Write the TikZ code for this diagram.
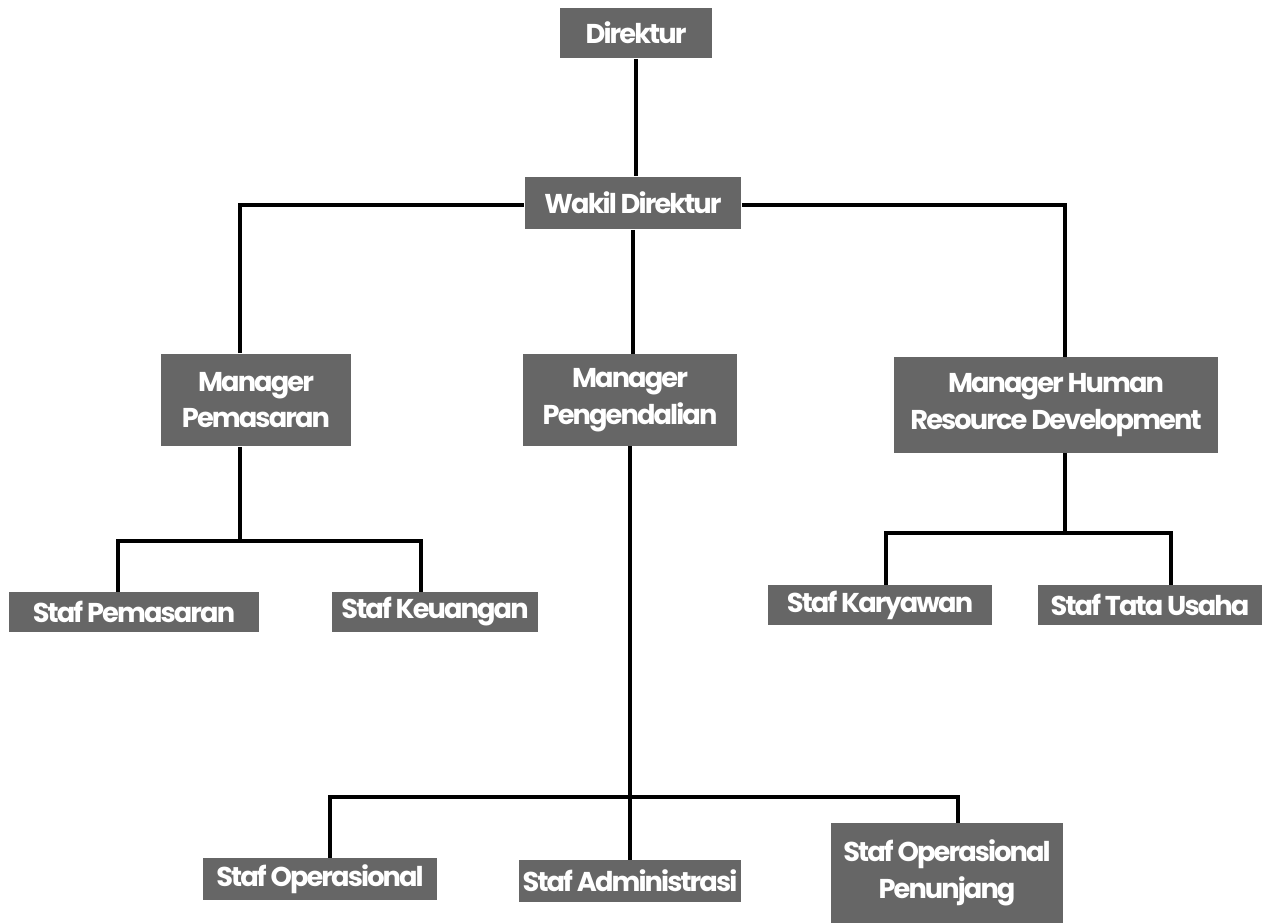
\documentclass[tikz,border=0pt]{standalone}
\usepackage{fontspec}
\setmainfont[LetterSpace=-7]{Poppins}
\usetikzlibrary{positioning}

\begin{document}
\begin{tikzpicture}[
    x=0.02cm, y=-0.02cm,
    jabatan/.style={rectangle, fill=black!60, text=white, align=center, inner sep=0pt,
        font=\fontsize{15.5}{21}\selectfont\bfseries},
    garis/.style={line width=2.2pt}
]
\useasboundingbox (0,0) rectangle (1275,923);

% kotak jabatan
\node[jabatan, minimum width=3.04cm, minimum height=1.02cm] (direktur) at (636,33) {Direktur};
\node[jabatan, minimum width=4.34cm, minimum height=1.06cm] (wakil) at (633,203) {Wakil Direktur};
\node[jabatan, minimum width=3.8cm, minimum height=1.86cm] (mpem) at (256,400) {Manager\\Pemasaran};
\node[jabatan, minimum width=4.28cm, minimum height=1.84cm] (mpeng) at (630,400) {Manager\\Pengendalian};
\node[jabatan, minimum width=6.48cm, minimum height=1.92cm] (mhrd) at (1056,405) {Manager Human\\Resource Development};
\node[jabatan, minimum width=5.02cm, minimum height=0.8cm] (spem) at (134,612) {Staf Pemasaran};
\node[jabatan, minimum width=4.14cm, minimum height=0.8cm] (skeu) at (435,612) {Staf Keuangan};
\node[jabatan, minimum width=4.48cm, minimum height=0.8cm] (skar) at (880,605) {Staf Karyawan};
\node[jabatan, minimum width=4.48cm, minimum height=0.8cm] (stu) at (1150,605) {Staf Tata Usaha};
\node[jabatan, minimum width=4.7cm, minimum height=0.84cm] (sop) at (320,879) {Staf Operasional};
\node[jabatan, minimum width=4.44cm, minimum height=0.84cm] (sadm) at (630,881) {Staf Administrasi};
\node[jabatan, minimum width=4.64cm, minimum height=2cm] (spen) at (947,873) {Staf Operasional\\Penunjang};

% titik cabang
\coordinate (kiri) at (240,205);
\coordinate (kanan) at (1065,205);
\coordinate (cabA1) at (118,541);
\coordinate (cabA2) at (421,541);
\coordinate (cabC1) at (886,533);
\coordinate (cabC2) at (1171,533);
\coordinate (cabB1) at (330,797);
\coordinate (cabB2) at (958,797);

% garis
\draw[garis] (direktur.south) -- (direktur.south |- wakil.north);
\draw[garis] (kiri |- mpem.north) -- (kiri) -- (kiri -| wakil.west);
\draw[garis] (kanan -| wakil.east) -- (kanan) -- (kanan |- mhrd.north);
\draw[garis] (wakil.south) -- (wakil.south |- mpeng.north);
\draw[garis] (kiri |- mpem.south) -- (kiri |- cabA1);
\draw[garis] (cabA1 |- spem.north) -- (cabA1) -- (cabA2) -- (cabA2 |- skeu.north);
\draw[garis] (kanan |- mhrd.south) -- (kanan |- cabC1);
\draw[garis] (cabC1 |- skar.north) -- (cabC1) -- (cabC2) -- (cabC2 |- stu.north);
\draw[garis] (mpeng.south) -- (sadm.north);
\draw[garis] (cabB1 |- sop.north) -- (cabB1) -- (cabB2) -- (cabB2 |- spen.north);
\end{tikzpicture}
\end{document}
